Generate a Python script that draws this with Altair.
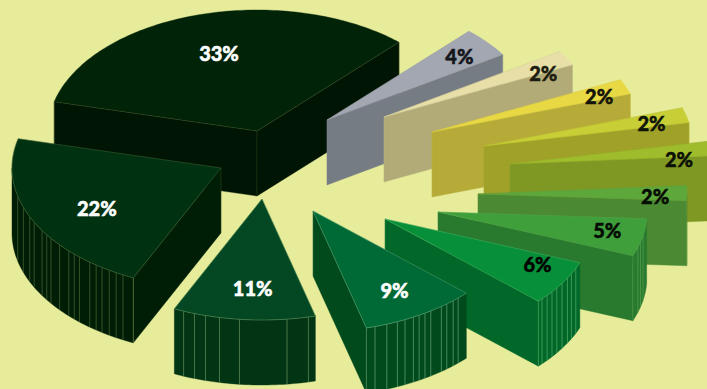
import math
import altair as alt
import pandas as pd

# Shares in clockwise order, starting from the largest wedge
shares = [33, 4, 2, 2, 2, 2, 2, 5, 6, 9, 11, 22]

top_colors = ["#012308", "#a2a7b1", "#e7dfa7", "#e8d944", "#c8cf36", "#9fbc2d",
              "#5ea83b", "#3e9f3b", "#079039", "#006a37", "#034822", "#003212"]
side_colors = ["#001503", "#767c84", "#b2ab78", "#b6ab38", "#a0a128", "#7f9824",
               "#4b8a32", "#297a2e", "#016829", "#004a1c", "#023514", "#001e06"]
edge_colors = ["#55683c", "#8f949c", "#c8c290", "#cfc040", "#b4b830", "#8fa828",
               "#6a9c40", "#62aa58", "#6cc27a", "#82bd90", "#7fa870", "#5f7a44"]
label_colors = ["#ffffff", "#15151c", "#1c1c10", "#141408", "#101408", "#0c1006",
                "#060c04", "#060c04", "#020402", "#ffffff", "#ffffff", "#ffffff"]

# How far each wedge is pulled away from the hub
hub_x, hub_y = 320, 170
pull_x = [-63, 7, 64, 112, 164, 190, 158, 118, 65, -7, -58, -99]
pull_y = [-39, -50, -53, -38, -24, -6, 24, 42, 49, 41, 29, -2]

# Label placement inside each wedge: share of the radius, share of the sweep
label_radius = [.659, .822, .84, .85, .822, .809, .848, .825, .824, .764, .746, .683]
label_sweep = [.505, .53, 1.1, .8, .79, 1.24, .79, .43, .3, .51, .46, .45]

# Ribs on the curved wall of each wedge, as shares of the sweep
ribs = {
    7: [.444, .62, .767],
    8: [.134, .264, .37, .505, .625, .73, .83, .93],
    9: [.099, .157, .228, .287, .398, .457, .515, .571, .651, .722, .818, .924],
    10: [.05, .2, .53, .67, .77, .85, .93],
    11: [.0, .04, .067, .095, .125, .15, .178, .225, .25, .277, .325, .374, .4,
         .43, .487, .523, .584, .654],
}

W, H = 707, 389
RX, RY = 209, 121
DEPTH = 65
START_ANGLE = 166.0
BACKGROUND = "#e7ec9b"

x_scale = alt.Scale(domain=[0, W], range=[0, W])
y_scale = alt.Scale(domain=[0, H], range=[0, H])


def polygon(points, fill, stroke=None, width=0.4):
    frame = pd.DataFrame(
        [{"x": round(p[0], 2), "y": round(p[1], 2), "i": i} for i, p in enumerate(points)]
    )
    stroke = stroke or fill
    return alt.Chart(frame).mark_line(
        fill=fill, stroke=stroke, strokeWidth=width, clip=True, interpolate="linear"
    ).encode(
        x=alt.X("x:Q", scale=x_scale, axis=None),
        y=alt.Y("y:Q", scale=y_scale, axis=None),
        order="i:Q",
    )


def polyline(points, color, width=0.7, opacity=0.8):
    frame = pd.DataFrame(
        [{"x": round(p[0], 2), "y": round(p[1], 2), "i": i} for i, p in enumerate(points)]
    )
    return alt.Chart(frame).mark_line(
        stroke=color, strokeWidth=width, opacity=opacity, clip=True
    ).encode(
        x=alt.X("x:Q", scale=x_scale, axis=None),
        y=alt.Y("y:Q", scale=y_scale, axis=None),
        order="i:Q",
    )


def on_ellipse(cx, cy, degrees, radius=1.0):
    a = math.radians(degrees)
    return cx + radius * RX * math.cos(a), cy - radius * RY * math.sin(a)


layers = []
labels = []
angle = START_ANGLE
for n, share in enumerate(shares):
    sweep = share / 100 * 360
    cx, cy = hub_x + pull_x[n], hub_y + pull_y[n]
    steps = max(8, int(sweep))
    sweep_angles = [angle - sweep * k / steps for k in range(steps + 1)]
    arc = [on_ellipse(cx, cy, a) for a in sweep_angles]
    tip = (cx, cy)
    middle = on_ellipse(cx, cy, angle - sweep / 2)

    # Curved wall first (only its lower half can be seen), then whichever
    # straight walls face the viewer, then the top
    low = [on_ellipse(cx, cy, a) for a in sweep_angles if -180 <= a <= 0]
    if len(low) > 1:
        wall = low + [(x, y + DEPTH) for x, y in reversed(low)] + [low[0]]
        layers.append(polygon(wall, side_colors[n]))

    for end in (arc[0], arc[-1]):
        ex, ey = end[0] - tip[0], end[1] - tip[1]
        nx, ny = -ey, ex
        if nx * (middle[0] - tip[0]) + ny * (middle[1] - tip[1]) > 0:
            nx, ny = -nx, -ny
        if ny > 0:
            face = [tip, end, (end[0], end[1] + DEPTH), (tip[0], tip[1] + DEPTH), tip]
            layers.append(polygon(face, side_colors[n]))
            layers.append(polyline([end, (end[0], end[1] + DEPTH)], edge_colors[n], 0.6, 0.7))
            layers.append(polyline([tip, (tip[0], tip[1] + DEPTH)], edge_colors[n], 0.5, 0.5))

    if n in ribs:
        rib_rows = []
        for f in ribs[n]:
            x, y = on_ellipse(cx, cy, angle - sweep * f)
            rib_rows.append({"x": round(x, 2), "y": round(y, 2), "y2": round(y + DEPTH, 2)})
        layers.append(
            alt.Chart(pd.DataFrame(rib_rows)).mark_rule(
                stroke=edge_colors[n], strokeWidth=0.7, opacity=0.8, clip=True
            ).encode(
                x=alt.X("x:Q", scale=x_scale, axis=None),
                y=alt.Y("y:Q", scale=y_scale, axis=None),
                y2="y2:Q",
            )
        )

    layers.append(polygon([tip] + arc + [tip], top_colors[n]))
    layers.append(polyline([tip, arc[0]], edge_colors[n], 0.5, 0.7))
    layers.append(polyline([tip, arc[-1]], edge_colors[n], 0.5, 0.7))
    if n >= 7:
        layers.append(polyline(arc, edge_colors[n], 0.6, 0.7))

    lx, ly = on_ellipse(cx, cy, angle - sweep * label_sweep[n], label_radius[n])
    labels.append(
        alt.Chart(pd.DataFrame([{"x": lx, "y": ly + 1, "t": f"{share}%"}])).mark_text(
            font="Lato", fontWeight=900, fontSize=20, color=label_colors[n],
            stroke=label_colors[n], strokeWidth=0.5,
            align="center", baseline="middle",
        ).encode(
            x=alt.X("x:Q", scale=x_scale, axis=None),
            y=alt.Y("y:Q", scale=y_scale, axis=None),
            text="t:N",
        )
    )
    angle -= sweep

chart = alt.layer(*(layers + labels)).properties(
    width=W,
    height=H,
    background=BACKGROUND,
    padding=0,
    autosize=alt.AutoSizeParams(type="none"),
).configure_view(stroke=None)

chart.save("out.html", embed_options={"renderer": "svg", "actions": False})
